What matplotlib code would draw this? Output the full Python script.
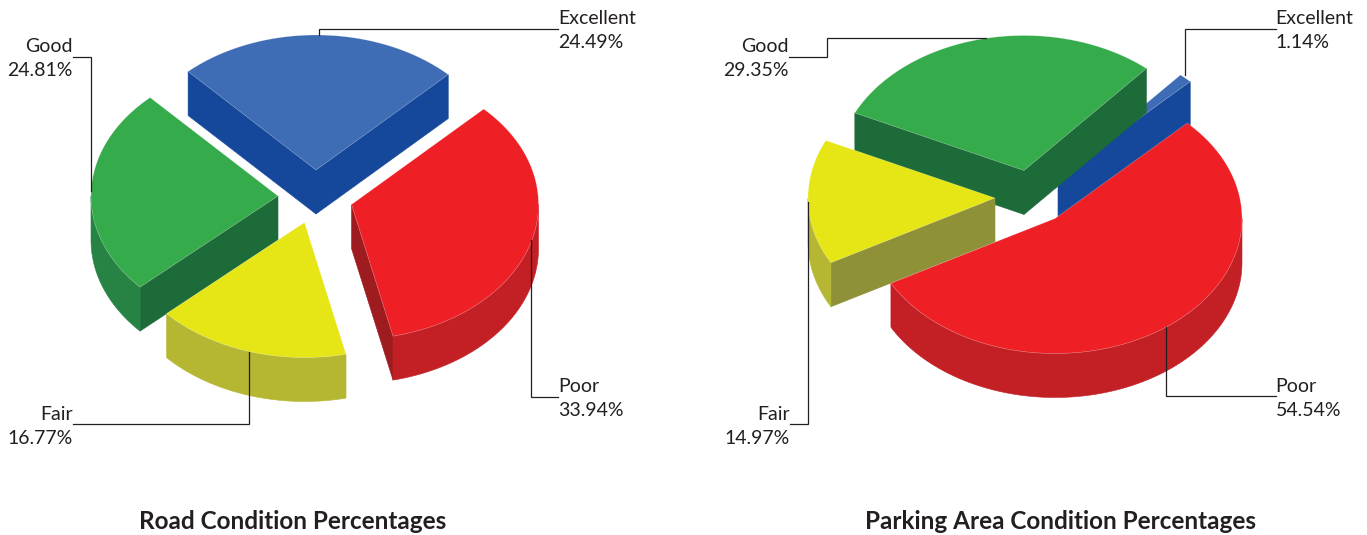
import numpy as np
import matplotlib.pyplot as plt
from matplotlib.patches import Polygon

plt.rcParams['font.family'] = ['Lato', 'DejaVu Sans']

# Data
categories = ["Poor", "Fair", "Good", "Excellent"]
road_values = [33.94, 16.77, 24.81, 24.49]
parking_values = [54.54, 14.97, 29.35, 1.14]
titles = ["Road Condition Percentages", "Parking Area Condition Percentages"]

# Colours: top, cut side, outer wall
colors = {
    "Poor": ("#EF2025", "#9E1B20", "#C32026"),
    "Fair": ("#E6E617", "#8E9137", "#B5B733"),
    "Good": ("#36AB4B", "#1D6B38", "#278343"),
    "Excellent": ("#3F6DB5", "#15489B", "#15489B"),
}
text_color = "#231F20"

# Projection of the pie in pixels
RX, RY, DEPTH = 187, 135, 44
START = 45

# Where each exploded slice has its tip
road_tips = {"Poor": (351.5, 204.5), "Fair": (304.5, 222.5), "Good": (278, 196), "Excellent": (316, 170)}
parking_tips = {"Poor": (1055, 218.5), "Fair": (995, 198), "Good": (1024, 170.5), "Excellent": (1058, 177)}

# Leader lines and label anchors
road_leaders = {
    "Excellent": [(319, 35), (319, 29.3), (558, 29.3)],
    "Good": [(72.5, 56.7), (91.3, 56.7), (91.3, 191)],
    "Fair": [(72.5, 423.7), (248.5, 423.7), (248.5, 351.7)],
    "Poor": [(531, 240), (531, 397), (558, 397)],
}
parking_leaders = {
    "Excellent": [(1275.5, 29.3), (1185, 29.3), (1185, 75)],
    "Good": [(789, 56.7), (826.7, 56.7), (826.7, 38), (986, 38)],
    "Fair": [(790, 423.7), (808, 423.7), (808, 202)],
    "Poor": [(1166, 327), (1166, 396), (1275.5, 396)],
}
road_labels = {"Excellent": (558, "left"), "Good": (72.5, "right"), "Fair": (72.5, "right"), "Poor": (558, "left")}
parking_labels = {"Excellent": (1275.5, "left"), "Good": (789, "right"), "Fair": (790, "right"), "Poor": (1275.5, "left")}
label_y = {"Excellent": 18.5, "Good": 46.5, "Fair": 414.5, "Poor": 386.5}


def ring(tip, angles, drop=0):
    t = np.radians(angles)
    return np.column_stack([tip[0] + RX * np.cos(t), tip[1] - RY * np.sin(t) + drop])


def face(ax, pts, color, z):
    ax.add_patch(Polygon(pts, closed=True, facecolor=color, edgecolor=color, linewidth=0.4, zorder=z))


def cut_side(ax, tip, a, color, z):
    end = ring(tip, np.array([a]))[0]
    pts = [tip, end, (end[0], end[1] + DEPTH), (tip[0], tip[1] + DEPTH)]
    face(ax, pts, color, z)


def draw_pie(ax, values, tips):
    total = sum(values)
    a1 = START
    slices = {}
    for name, v in zip(categories, values):
        a2 = a1 - 360 * v / total
        slices[name] = (a1, a2)
        a1 = a2

    # back to front
    for i, name in enumerate(["Excellent", "Good", "Fair", "Poor"]):
        a1, a2 = slices[name]
        tip = tips[name]
        top, side, wall = colors[name]
        z = 2 + i
        # a cut side only shows when the slice lies above its edge on screen
        if np.cos(np.radians(a1)) < 0:
            cut_side(ax, tip, a1, side, z)
        if np.cos(np.radians(a2)) > 0:
            cut_side(ax, tip, a2, side, z)
        # outer wall: front half of the ellipse only
        hi, lo = min(a1, 0), max(a2, -180)
        if lo < hi:
            arc = np.linspace(hi, lo, 120)
            pts = np.vstack([ring(tip, arc), ring(tip, arc[::-1], DEPTH)])
            face(ax, pts, wall, z)
        arc = np.linspace(a1, a2, 200)
        pts = np.vstack([[tip], ring(tip, arc)])
        ax.add_patch(Polygon(pts, closed=True, facecolor=top, edgecolor=(1, 1, 1, 0.35),
                             linewidth=0.4, zorder=z))


def draw_labels(ax, values, leaders, labels):
    for name, v in zip(categories, values):
        xs, ys = zip(*leaders[name])
        ax.plot(xs, ys, color=text_color, linewidth=0.9, solid_joinstyle="miter", zorder=10)
        x, ha = labels[name]
        ax.text(x, label_y[name], name, ha=ha, va="center", fontsize=14, color=text_color, zorder=11)
        ax.text(x, label_y[name] + 24, f"{v:.2f}%", ha=ha, va="center", fontsize=14, color=text_color, zorder=11)


fig = plt.figure(figsize=(13.67, 5.35), dpi=100)
ax = fig.add_axes([0, 0, 1, 1])
ax.set_xlim(0, 1367)
ax.set_ylim(535, 0)
ax.axis("off")

draw_pie(ax, road_values, road_tips)
draw_pie(ax, parking_values, parking_tips)
draw_labels(ax, road_values, road_leaders, road_labels)
draw_labels(ax, parking_values, parking_leaders, parking_labels)

ax.text(293, 521.5, titles[0], ha="center", va="center", fontsize=17.5, fontweight="bold", color=text_color)
ax.text(1060.5, 521.5, titles[1], ha="center", va="center", fontsize=17.5, fontweight="bold", color=text_color)

fig.savefig("out.png", dpi=100)
